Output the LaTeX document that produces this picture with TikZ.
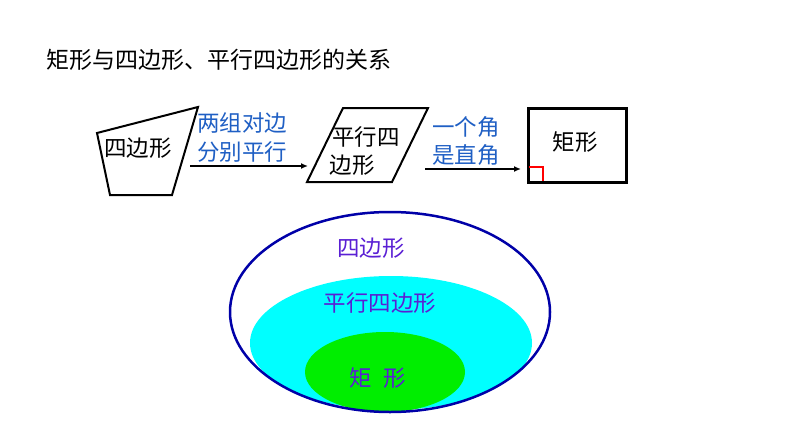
\documentclass[tikz,border=0pt]{standalone}
\usepackage{fontspec}
\setmainfont{Noto Sans CJK SC}
\usetikzlibrary{arrows.meta}
\definecolor{lblblue}{HTML}{1F5FC4}
\definecolor{txtpurple}{HTML}{5A1FD4}
\definecolor{outerblue}{HTML}{0000A8}
\definecolor{cyanfill}{HTML}{00FFFF}
\definecolor{greenfill}{HTML}{00EE00}
\tikzset{
  txt/.style={inner sep=0pt, font=\fontsize{22.5}{26}\selectfont},
  lbl/.style={txt, text=lblblue},
  ell/.style={txt, text=txtpurple},
  shapeline/.style={draw=black, line width=2pt, line join=miter},
  conn/.style={draw=black, line width=2pt, -{Latex[length=7pt,width=6pt]}}
}
\begin{document}
\begin{tikzpicture}[x=1pt,y=-1pt]
\useasboundingbox (0,0) rectangle (794,447);
% title
\node[txt, font=\fontsize{23}{27}\selectfont] (title) at (219,60) {矩形与四边形、平行四边形的关系};
% quadrilateral
\draw[shapeline] (97,133) -- (198,107) -- (172,195) -- (110,195) -- cycle;
\node[txt] (quad) at (138,148) {四边形};
% parallelogram
\draw[shapeline] (343,108) -- (428,108) -- (392,182) -- (307,182) -- cycle;
\node[txt] (par1) at (366,137) {平行四};
\node[txt] (par2) at (352,165) {边形};
% rectangle
\draw[draw=black, line width=3pt] (528,108) rectangle (626,182);
\node[txt] (rect) at (575,142) {矩形};
\draw[red, line width=2pt] (529,167) -- (543,167) -- (543,181);
% arrows
\coordinate (a1s) at (190,166);
\coordinate (a1e) at (308,166);
\draw[conn] (a1s) -- (a1e);
\node[lbl] (l1a) at (242,123) {两组对边};
\node[lbl] (l1b) at (242,152) {分别平行};
\coordinate (a2s) at (425,169);
\coordinate (a2e) at (521,169);
\draw[conn] (a2s) -- (a2e);
\node[lbl] (l2a) at (466,127) {一个角};
\node[lbl] (l2b) at (466,155) {是直角};
% ellipses
\begin{scope}
  \clip (390,312) ellipse [x radius=160, y radius=100];
  \fill[cyanfill] (391,343) ellipse [x radius=141, y radius=67];
\end{scope}
\fill[greenfill] (385,372) ellipse [x radius=80, y radius=40];
\draw[outerblue, line width=2.5pt] (390,312) ellipse [x radius=160, y radius=100];
\node[ell] (e1) at (371,248) {四边形};
\node[ell] (e2) at (380,303) {平行四边形};
\node[ell] (e3) at (378,378) {矩\hspace{12pt}形};
\end{tikzpicture}
\end{document}
